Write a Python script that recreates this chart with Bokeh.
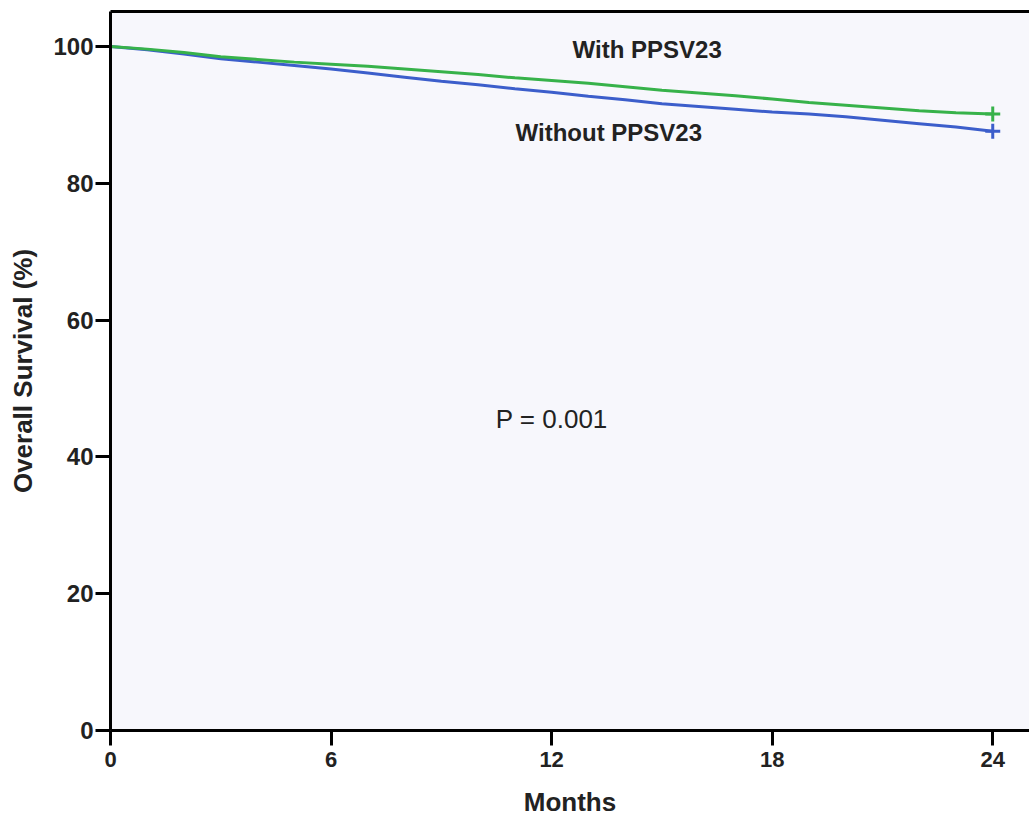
from bokeh.plotting import figure
from bokeh.models import LinearAxis, FixedTicker, Range1d, Label, ColumnDataSource
from bokeh.embed import file_html
from bokeh.resources import INLINE

# ---- data ----
months = [0, 1, 2, 3, 4, 5, 6, 7, 8, 9, 10, 11, 12,
          13, 14, 15, 16, 17, 18, 19, 20, 21, 22, 23, 24]
with_ppsv23 = [100.0, 99.6, 99.1, 98.5, 98.1, 97.7, 97.4, 97.1, 96.7, 96.3, 95.9, 95.4, 95.0,
               94.6, 94.1, 93.6, 93.2, 92.8, 92.3, 91.8, 91.4, 91.0, 90.6, 90.3, 90.1]
without_ppsv23 = [100.0, 99.5, 98.9, 98.2, 97.7, 97.2, 96.7, 96.1, 95.5, 94.9, 94.4, 93.8, 93.3,
                  92.7, 92.2, 91.6, 91.2, 90.8, 90.4, 90.1, 89.7, 89.2, 88.7, 88.2, 87.6]
censor_month = [24]
censor_with = [90.1]
censor_without = [87.6]
x_ticks = [0, 6, 12, 18, 24]
y_ticks = [0, 20, 40, 60, 80, 100]
series_labels = ["With PPSV23", "Without PPSV23"]
p_text = "P = 0.001"

GREEN = "#37b24a"
BLUE = "#3c5ecb"
FONT = "Liberation Sans"

p = figure(width=1029, height=819, output_backend="svg", toolbar_location=None,
           x_range=Range1d(0, 25.0), y_range=Range1d(0, 105.1),
           min_border_left=110, min_border_right=0, min_border_top=11, min_border_bottom=89,
           background_fill_color="#f7f7fc", border_fill_color="white")
p.outline_line_color = None
p.grid.visible = False

# bottom axis
xa = p.xaxis[0]
xa.ticker = FixedTicker(ticks=x_ticks)
xa.axis_label = "Months"
# left axis
ya = p.yaxis[0]
ya.ticker = FixedTicker(ticks=y_ticks)
ya.axis_label = "Overall Survival (%)"

for ax in (xa, ya):
    ax.axis_line_width = 3
    ax.axis_line_color = "black"
    ax.major_tick_line_width = 3
    ax.major_tick_line_color = "black"
    ax.major_tick_in = 0
    ax.major_tick_out = 15
    ax.minor_tick_line_color = None
    ax.major_label_text_font = FONT
    ax.major_label_text_font_style = "bold"
    ax.major_label_text_color = "#222222"
    ax.axis_label_text_font = FONT
    ax.axis_label_text_font_style = "bold"
    ax.axis_label_text_color = "#222222"

xa.major_label_text_font_size = "22px"
xa.major_label_standoff = 6
xa.axis_label_text_font_size = "26px"
xa.axis_label_standoff = 17

ya.major_label_text_font_size = "24px"
ya.major_label_standoff = 2
ya.axis_label_text_font_size = "26px"
ya.axis_label_standoff = 12

# top frame line (axis without ticks)
top = LinearAxis(ticker=FixedTicker(ticks=[]), axis_line_width=3, axis_line_color="black",
                 major_tick_out=0, major_tick_in=0, minor_tick_line_color=None,
                 major_label_text_font_size="0px", major_label_standoff=0)
p.add_layout(top, "above")

src = ColumnDataSource(dict(m=months, w=with_ppsv23, wo=without_ppsv23))
p.line("m", "wo", source=src, line_color=BLUE, line_width=3)
p.line("m", "w", source=src, line_color=GREEN, line_width=3)

p.scatter(censor_month, censor_without, marker="cross", size=15, line_color=BLUE, line_width=3)
p.scatter(censor_month, censor_with, marker="cross", size=15, line_color=GREEN, line_width=3)

p.add_layout(Label(x=12.57, y=97.5, text=series_labels[0], text_font=FONT,
                   text_font_size="24px", text_font_style="bold", text_color="#222222"))
p.add_layout(Label(x=11.02, y=85.5, text=series_labels[1], text_font=FONT,
                   text_font_size="24px", text_font_style="bold", text_color="#222222"))
p.add_layout(Label(x=10.48, y=43.4, text=p_text, text_font=FONT,
                   text_font_size="26px", text_color="#222222"))

open("out.html", "w").write(file_html(p, INLINE))
